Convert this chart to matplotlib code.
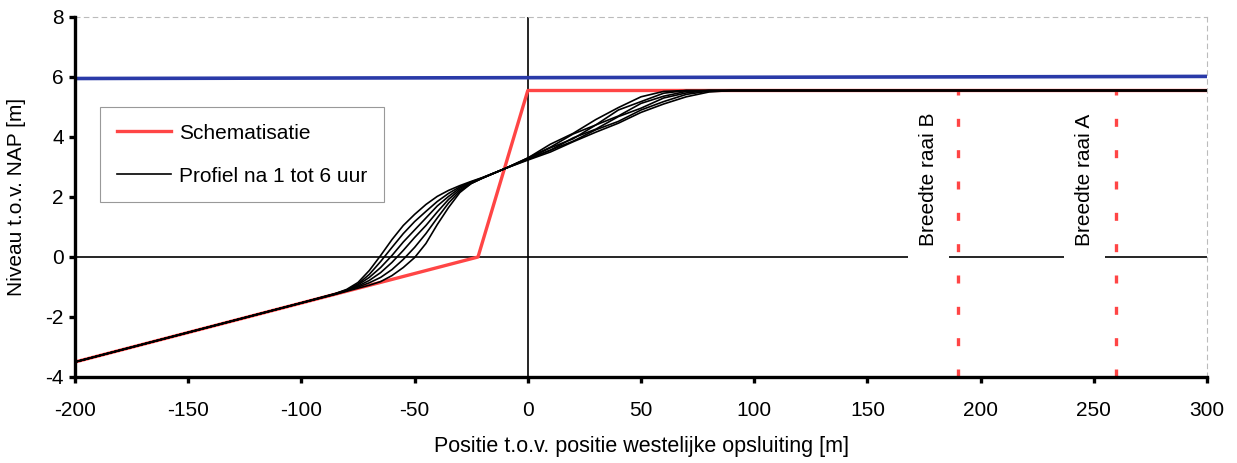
import matplotlib
matplotlib.use("Agg")
import matplotlib.pyplot as plt

plt.rcParams['font.family'] = ['Liberation Sans', 'DejaVu Sans']
plt.rcParams['axes.unicode_minus'] = False

# --- data ---
schem_x = [-200, -22, 0, 300]
schem_y = [-3.5, 0.0, 5.55, 5.55]

water_x = [-200, 300]
water_y = [5.95, 6.02]

prof_x = [-200, -100, -85, -80, -75, -70, -65, -60, -55, -50, -45, -40, -35, -30,
          -25, -20, -10, 0, 10, 20, 30, 40, 50, 60, 70, 80, 90, 100, 300]
prof_1 = [-3.5, -1.53, -1.24, -1.14, -1.04, -0.94, -0.82, -0.62, -0.35, -0.02, 0.45, 1.08, 1.65, 2.15,
          2.45, 2.63, 2.95, 3.30, 3.76, 4.12, 4.58, 4.98, 5.34, 5.52, 5.55, 5.55, 5.55, 5.55, 5.55]
prof_2 = [-3.5, -1.53, -1.24, -1.13, -1.00, -0.86, -0.68, -0.42, -0.08, 0.32, 0.78, 1.30, 1.80, 2.20,
          2.45, 2.63, 2.95, 3.30, 3.66, 4.10, 4.40, 4.90, 5.18, 5.46, 5.55, 5.55, 5.55, 5.55, 5.55]
prof_3 = [-3.5, -1.53, -1.23, -1.12, -0.97, -0.78, -0.52, -0.18, 0.22, 0.65, 1.05, 1.50, 1.92, 2.25,
          2.47, 2.63, 2.95, 3.28, 3.64, 3.94, 4.40, 4.70, 5.12, 5.36, 5.52, 5.55, 5.55, 5.55, 5.55]
prof_4 = [-3.5, -1.53, -1.23, -1.11, -0.93, -0.68, -0.35, 0.05, 0.50, 0.90, 1.30, 1.70, 2.02, 2.30,
          2.48, 2.64, 2.95, 3.27, 3.56, 3.97, 4.26, 4.68, 4.96, 5.30, 5.47, 5.55, 5.55, 5.55, 5.55]
prof_5 = [-3.5, -1.53, -1.22, -1.10, -0.90, -0.58, -0.15, 0.32, 0.78, 1.18, 1.52, 1.85, 2.12, 2.34,
          2.50, 2.64, 2.95, 3.25, 3.56, 3.86, 4.24, 4.52, 4.90, 5.18, 5.42, 5.53, 5.55, 5.55, 5.55]
prof_6 = [-3.5, -1.53, -1.22, -1.08, -0.85, -0.45, 0.05, 0.58, 1.05, 1.42, 1.75, 2.02, 2.22, 2.38,
          2.52, 2.65, 2.95, 3.23, 3.50, 3.84, 4.16, 4.46, 4.82, 5.10, 5.34, 5.50, 5.55, 5.55, 5.55]
profiles = [prof_1, prof_2, prof_3, prof_4, prof_5, prof_6]

raai_x = [190, 260]
raai_labels = ["Breedte raai B", "Breedte raai A"]
raai_label_x = [177, 246]

x_ticks = [-200, -150, -100, -50, 0, 50, 100, 150, 200, 250, 300]
y_ticks = [-4, -2, 0, 2, 4, 6, 8]

RED = '#ff4545'
BLUE = '#2a3aa8'
FS = 15

fig = plt.figure(figsize=(12.37, 4.63), dpi=100)
ax = fig.add_axes([75/1237, 1-377/463, 1132/1237, 360/463])

ax.set_xlim(-200, 300)
ax.set_ylim(-4, 8)

# reference lines
ax.axhline(0, color='black', lw=1.2, zorder=1)
ax.axvline(0, color='black', lw=1.2, zorder=1)

# water level
ax.plot(water_x, water_y, color=BLUE, lw=2.6, zorder=3)

# schematisation
ax.plot(schem_x, schem_y, color=RED, lw=2.4, zorder=3, label='Schematisatie')

# profiles
for i, p in enumerate(profiles):
    ax.plot(prof_x, p, color='black', lw=1.2, zorder=4,
            label='Profiel na 1 tot 6 uur' if i == 0 else None)

# raai lines
for xr, lab, xl in zip(raai_x, raai_labels, raai_label_x):
    ax.plot([xr, xr], [-4, 5.55], color=RED, lw=2.4, dashes=(2.4, 7), zorder=3)
    ax.text(xl, 0.35, lab, rotation=90, ha='center', va='bottom', fontsize=FS,
            bbox=dict(facecolor='white', edgecolor='none', pad=8), zorder=5)

# axes styling
for s in ['top', 'right']:
    ax.spines[s].set_color('#bbbbbb')
    ax.spines[s].set_linewidth(0.8)
    ax.spines[s].set_linestyle((0, (4, 4)))
for s in ['left', 'bottom']:
    ax.spines[s].set_linewidth(2.4)
    ax.spines[s].set_color('black')
    ax.spines[s].set_zorder(6)

ax.set_xticks(x_ticks)
ax.set_yticks(y_ticks)
ax.tick_params(axis='both', direction='out', length=4, width=2.4, labelsize=FS)
ax.tick_params(axis='x', pad=13)
ax.tick_params(axis='y', pad=4)

ax.set_xlabel('Positie t.o.v. positie westelijke opsluiting [m]', fontsize=15.5, labelpad=12)
ax.set_ylabel('Niveau t.o.v. NAP [m]', fontsize=FS, labelpad=14)

handles, labels = ax.get_legend_handles_labels()
leg = ax.legend(handles, labels,
                loc='upper left', bbox_to_anchor=(0.022, 0.75), fontsize=FS,
                frameon=True, fancybox=False, edgecolor='#999999', framealpha=1,
                handlelength=2.6, handletextpad=0.4, borderpad=0.8, labelspacing=1.15,
                borderaxespad=0)
leg.get_frame().set_linewidth(0.8)
leg.set_zorder(7)

fig.savefig('out.png', dpi=100, facecolor='white')
